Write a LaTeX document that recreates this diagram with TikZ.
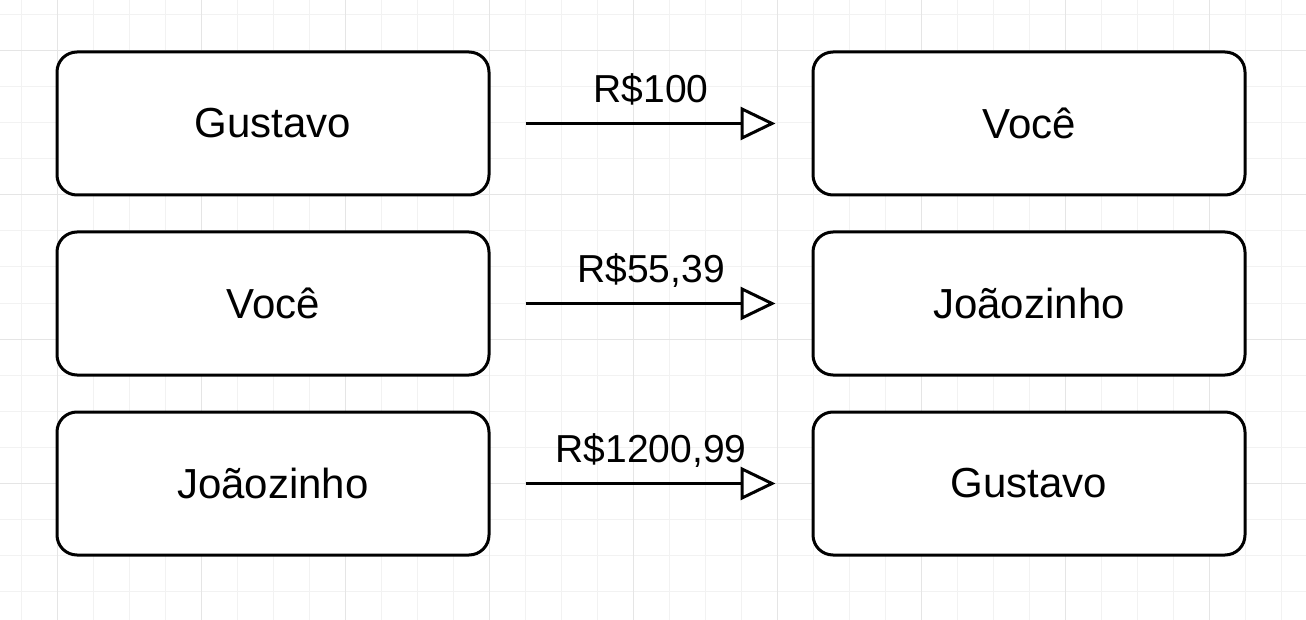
\documentclass[tikz,border=0pt]{standalone}
\usepackage{fontspec}
\setmainfont{Liberation Sans}
\usetikzlibrary{arrows.meta}

\tikzset{
  person/.style={draw, line width=3pt, rounded corners=20pt, fill=white,
    minimum width=432pt, minimum height=143pt, font=\fontsize{42}{50}\selectfont},
  flow/.style={line width=3pt, shorten <=35pt, shorten >=36pt,
    -{Triangle[fill=white, length=35pt, width=33pt]}},
  amount/.style={anchor=base, yshift=21pt, font=\fontsize{39}{46}\selectfont},
  gridminor/.style={draw=black!5, line width=1pt},
  gridmajor/.style={draw=black!10, line width=1pt}
}

\begin{document}
\begin{tikzpicture}[x=1pt, y=-1pt]
\fill[white] (0,0) rectangle (1306,620);
\useasboundingbox (0,0) rectangle (1306,620);

% grid
\foreach \gx in {21,57,...,1305} \draw[gridminor] (\gx,0) -- (\gx,620);
\foreach \gy in {15,51,...,615} \draw[gridminor] (0,\gy) -- (1306,\gy);
\foreach \gx in {57,201,...,1209} \draw[gridmajor] (\gx,0) -- (\gx,620);
\foreach \gy in {51,195,...,483} \draw[gridmajor] (0,\gy) -- (1306,\gy);

\node[person] (g1) at (273,123.5) {Gustavo};
\node[person] (v1) at (1029,123.5) {Você};
\node[person] (v2) at (273,303.5) {Você};
\node[person] (j2) at (1029,303.5) {Joãozinho};
\node[person] (j3) at (273,483.5) {Joãozinho};
\node[person] (g3) at (1029,483.5) {Gustavo};

\draw[flow] (g1) -- node[amount] {R\$100} (v1);
\draw[flow] (v2) -- node[amount] {R\$55,39} (j2);
\draw[flow] (j3) -- node[amount] {R\$1200,99} (g3);

\end{tikzpicture}
\end{document}
